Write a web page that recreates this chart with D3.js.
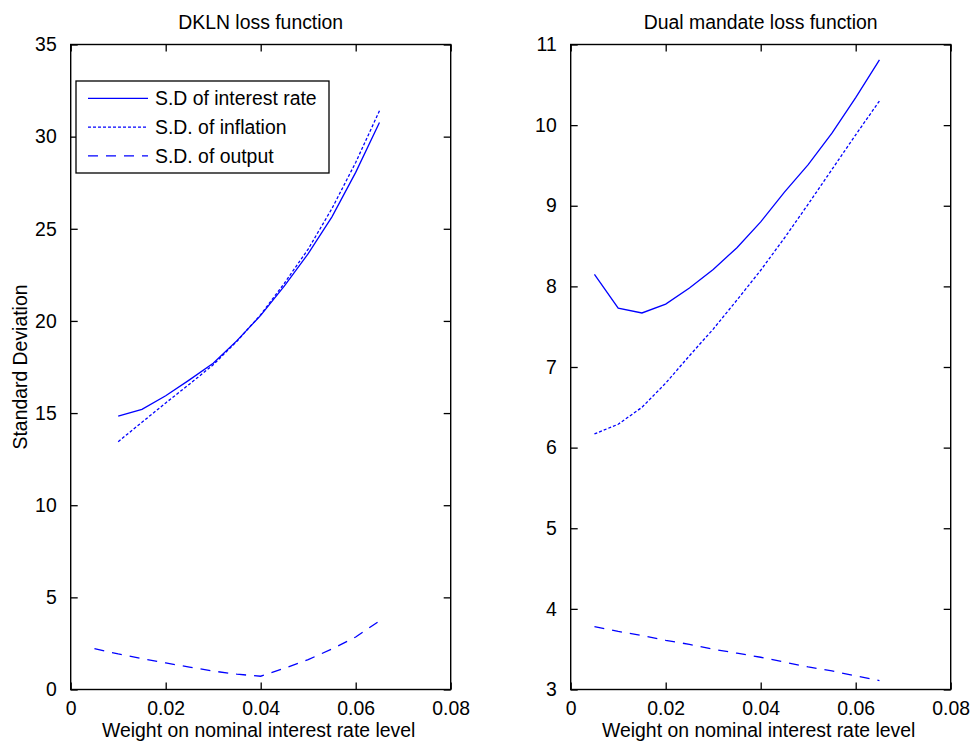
<!DOCTYPE html>
<html>
<head>
<meta charset="utf-8">
<script src="https://cdn.jsdelivr.net/npm/d3@7"></script>
<style>
  html, body { margin: 0; padding: 0; background: #fff; }
  svg { display: block; }
  text { font-family: "Liberation Sans", Arial, sans-serif; fill: #000; }
</style>
</head>
<body>
<svg id="chart" width="979" height="747"></svg>
<script>
// ---- data ----
const weights = [0.005, 0.01, 0.015, 0.02, 0.025, 0.03, 0.035, 0.04, 0.045, 0.05, 0.055, 0.06, 0.065];

const dklnInterest  = [null, 14.84, 15.2, 15.94, 16.8, 17.7, 18.93, 20.3, 21.9, 23.65, 25.65, 28.06, 30.77];
const dklnInflation = [null, 13.45, 14.5, 15.55, 16.57, 17.62, 18.9, 20.34, 22.05, 23.9, 26.1, 28.6, 31.4];
const dklnOutput    = [2.22, 1.93, 1.68, 1.44, 1.22, 1.0, 0.83, 0.72, 1.15, 1.62, 2.2, 2.85, 3.72];

const dualInterest  = [8.15, 7.73, 7.67, 7.78, 7.98, 8.21, 8.48, 8.80, 9.17, 9.51, 9.90, 10.34, 10.81];
const dualInflation = [6.17, 6.29, 6.50, 6.80, 7.14, 7.47, 7.83, 8.20, 8.60, 9.02, 9.45, 9.88, 10.30];
const dualOutput    = [3.78, 3.72, 3.67, 3.61, 3.56, 3.50, 3.45, 3.40, 3.34, 3.28, 3.23, 3.17, 3.11];

const xTicks = [0, 0.02, 0.04, 0.06, 0.08];
const dklnYTicks = [0, 5, 10, 15, 20, 25, 30, 35];
const dualYTicks = [3, 4, 5, 6, 7, 8, 9, 10, 11];

const seriesNames = ["S.D of interest rate", "S.D. of inflation", "S.D. of output"];
const panelTitles = ["DKLN loss function", "Dual mandate loss function"];
const xLabel = "Weight on nominal interest rate level";
const yLabel = "Standard Deviation";

// ---- layout / style ----
const FS = 19.4;
const BLUE = "#0000ff";
const dashes = [null, "3,2", "10,8"];
const plotTop = 44.5, plotBottom = 689.5, tickLen = 7;

const svg = d3.select("#chart");

function fmtX(v) { return v === 0 ? "0" : d3.format(".2f")(v); }

function panel(x0, x1, yDomain, yTicks, seriesList, title, showYLabel, showLegend) {
  const x = d3.scaleLinear().domain([0, 0.08]).range([x0, x1]);
  const y = d3.scaleLinear().domain(yDomain).range([plotBottom, plotTop]);
  const g = svg.append("g");

  // lines
  const line = d3.line()
    .defined(d => d[1] !== null)
    .x(d => x(d[0])).y(d => y(d[1]));
  seriesList.forEach((vals, i) => {
    g.append("path")
      .datum(weights.map((w, k) => [w, vals[k]]))
      .attr("d", line)
      .attr("fill", "none")
      .attr("stroke", BLUE)
      .attr("stroke-width", 1.3)
      .attr("stroke-dasharray", dashes[i]);
  });

  // axes (inward ticks, all four sides)
  const axB = d3.axisBottom(x).tickValues(xTicks).tickFormat(fmtX).tickSizeInner(-tickLen).tickSizeOuter(0).tickPadding(12);
  const axT = d3.axisTop(x).tickValues(xTicks).tickFormat("").tickSizeInner(-tickLen).tickSizeOuter(0);
  const axL = d3.axisLeft(y).tickValues(yTicks).tickFormat(d3.format("d")).tickSizeInner(-tickLen).tickSizeOuter(0).tickPadding(14);
  const axR = d3.axisRight(y).tickValues(yTicks).tickFormat("").tickSizeInner(-tickLen).tickSizeOuter(0);

  const styleAxis = sel => {
    sel.selectAll("path.domain").remove();
    sel.selectAll("line").attr("stroke", "#000").attr("stroke-width", 1.3);
    sel.selectAll("text").attr("font-size", FS).attr("font-family", "Liberation Sans, Arial, sans-serif").attr("fill", "#000");
  };
  g.append("g").attr("transform", `translate(0,${plotBottom})`).call(axB).call(styleAxis);
  g.append("g").attr("transform", `translate(0,${plotTop})`).call(axT).call(styleAxis);
  g.append("g").attr("transform", `translate(${x0},0)`).call(axL).call(styleAxis);
  g.append("g").attr("transform", `translate(${x1},0)`).call(axR).call(styleAxis);

  g.append("rect")
    .attr("x", x0).attr("y", plotTop).attr("width", x1 - x0).attr("height", plotBottom - plotTop)
    .attr("fill", "none").attr("stroke", "#000").attr("stroke-width", 1.4);

  // title
  g.append("text").attr("x", (x0 + x1) / 2).attr("y", 28.5)
    .attr("text-anchor", "middle").attr("font-size", FS).text(title);
  // x label
  g.append("text").attr("x", (x0 + x1) / 2 - 2).attr("y", 737)
    .attr("text-anchor", "middle").attr("font-size", FS).text(xLabel);
  if (showYLabel) {
    g.append("text")
      .attr("transform", `translate(26.5,${(plotTop + plotBottom) / 2}) rotate(-90)`)
      .attr("text-anchor", "middle").attr("font-size", FS).text(yLabel);
  }
  if (showLegend) {
    const lg = g.append("g");
    lg.append("rect").attr("x", 76).attr("y", 81).attr("width", 253).attr("height", 92)
      .attr("fill", "#fff").attr("stroke", "#000").attr("stroke-width", 1.3);
    seriesNames.forEach((name, i) => {
      const yy = 98.3 + i * 28.8;
      lg.append("line").attr("x1", 88).attr("x2", 148).attr("y1", yy).attr("y2", yy)
        .attr("stroke", BLUE).attr("stroke-width", 1.3).attr("stroke-dasharray", dashes[i]);
      lg.append("text").attr("x", 155).attr("y", yy + 6.8).attr("font-size", FS).text(name);
    });
  }
}

panel(70.7, 450.7, [0, 35], dklnYTicks, [dklnInterest, dklnInflation, dklnOutput], panelTitles[0], true, true);
panel(570.7, 950.7, [3, 11], dualYTicks, [dualInterest, dualInflation, dualOutput], panelTitles[1], false, false);
</script>
</body>
</html>
